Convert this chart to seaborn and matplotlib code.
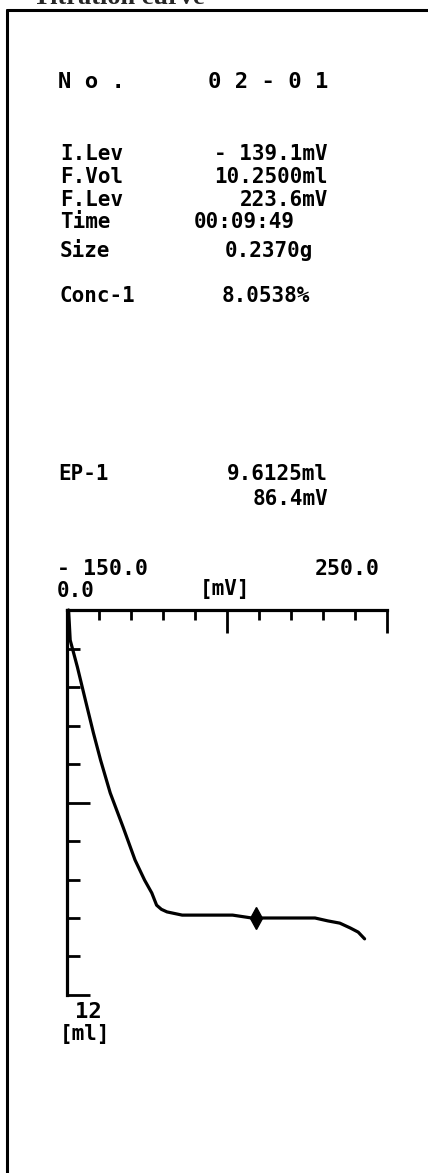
import numpy as np
import pandas as pd
import matplotlib
matplotlib.use('Agg')
import matplotlib.pyplot as plt
from matplotlib.lines import Line2D
import seaborn as sns

# Printout header and results
title = 'Titration curve'
sample_left = 'N o .'
sample_right = '0 2 - 0 1'
info_labels = ['I.Lev', 'F.Vol', 'F.Lev', 'Time', 'Size']
info_values = ['- 139.1mV', '10.2500ml', '223.6mV', '00:09:49', '0.2370g']
conc_label = 'Conc-1'
conc_value = '8.0538%'
ep_label = 'EP-1'
ep_texts = ['9.6125ml', '86.4mV']
ep_vol = 9.6125
ep_mv = 86.4

# Axis range labels
mv_min, mv_max = -150.0, 250.0
ml_min, ml_max = 0.0, 12.0
mv_min_label = '- 150.0'
mv_max_label = '250.0'
ml_min_label = '0.0'
ml_max_label = '12'
mv_unit = '[mV]'
ml_unit = '[ml]'

# Titration curve (potential vs. added volume)
curve_mv = [-148, -146, -137, -127, -117, -108, -96, -80, -65, -53, -44, -38,
            -32, -25, -6, 57, 81, 160, 176, 191, 204, 214, 222]
curve_ml = [0.0, 0.94, 1.78, 2.81, 3.83, 4.68, 5.70, 6.76, 7.79, 8.42, 8.82, 9.20,
            9.33, 9.41, 9.51, 9.51, 9.60, 9.60, 9.69, 9.76, 9.91, 10.04, 10.25]

df = pd.DataFrame({'mV': curve_mv, 'ml': curve_ml})

sns.set_style('white')
plt.rcParams['font.family'] = ['DejaVu Sans Mono', 'DejaVu Sans']

W, H = 428, 1173
fig = plt.figure(figsize=(W / 100, H / 100), dpi=100)
fig.patch.set_facecolor('white')


def fx(px):
    return px / W


def fy(py):
    return 1 - py / H


# outer frame (top and left edges of the scanned page)
fig.add_artist(Line2D([fx(7), fx(440)], [fy(10), fy(10)], color='black', lw=2.2))
fig.add_artist(Line2D([fx(7), fx(7)], [fy(10), fy(1180)], color='black', lw=2.2))
# the page title is cut off at the top edge, as on the scan
fig.text(fx(33), fy(4), title, family='Liberation Serif', weight='bold',
         fontsize=19, ha='left', va='baseline')

mono = dict(family='DejaVu Sans Mono', weight='bold', color='black')

fig.text(fx(58), fy(88), sample_left, fontsize=16, ha='left', va='baseline', **mono)
fig.text(fx(328), fy(88), sample_right, fontsize=16, ha='right', va='baseline', **mono)

info_base = [160, 183, 206, 228, 257]
info_right = [328, 328, 328, 295, 313]
for lab, val, yb, xr in zip(info_labels, info_values, info_base, info_right):
    fig.text(fx(60), fy(yb), lab, fontsize=15, ha='left', va='baseline', **mono)
    fig.text(fx(xr), fy(yb), val, fontsize=15, ha='right', va='baseline', **mono)

fig.text(fx(60), fy(302), conc_label, fontsize=15, ha='left', va='baseline', **mono)
fig.text(fx(310), fy(302), conc_value, fontsize=15, ha='right', va='baseline', **mono)

fig.text(fx(58), fy(480), ep_label, fontsize=15, ha='left', va='baseline', **mono)
fig.text(fx(328), fy(480), ep_texts[0], fontsize=15, ha='right', va='baseline', **mono)
fig.text(fx(328), fy(505), ep_texts[1], fontsize=15, ha='right', va='baseline', **mono)

fig.text(fx(57), fy(575), mv_min_label, fontsize=15.5, ha='left', va='baseline', **mono)
fig.text(fx(380), fy(575), mv_max_label, fontsize=15.5, ha='right', va='baseline', **mono)
fig.text(fx(57), fy(597), ml_min_label, fontsize=15, ha='left', va='baseline', **mono)
fig.text(fx(200), fy(595), mv_unit, fontsize=15, ha='left', va='baseline', **mono)
fig.text(fx(88), fy(1018), ml_max_label, fontsize=16, ha='center', va='baseline', **mono)
fig.text(fx(60), fy(1040), ml_unit, fontsize=15, ha='left', va='baseline', **mono)

# the curve panel
ax = fig.add_axes([fx(67), fy(995), 320 / W, 385 / H])
sns.lineplot(data=df, x='mV', y='ml', sort=False, estimator=None,
             color='black', lw=2.3, ax=ax)
ax.lines[0].set_clip_on(False)
ax.plot([ep_mv], [ep_vol], marker='d', ms=11, color='black', clip_on=False)

ax.set_xlim(mv_min, mv_max)
ax.set_ylim(ml_max, ml_min)
ax.set_xlabel('')
ax.set_ylabel('')
ax.set_facecolor('white')

for side in ['right', 'bottom']:
    ax.spines[side].set_visible(False)
for side in ['top', 'left']:
    ax.spines[side].set_linewidth(2.3)
    ax.spines[side].set_color('black')

mv_ticks = np.linspace(mv_min, mv_max, 11)
ml_ticks = np.linspace(ml_min, ml_max, 11)
ax.xaxis.tick_top()
ax.set_xticks([mv_ticks[5], mv_ticks[10]])
ax.set_xticks(list(mv_ticks[1:5]) + list(mv_ticks[6:10]), minor=True)
ax.set_yticks([ml_ticks[5], ml_ticks[10]])
ax.set_yticks(list(ml_ticks[1:5]) + list(ml_ticks[6:10]), minor=True)
ax.tick_params(axis='x', which='major', direction='in', length=16.5, width=2,
               top=True, bottom=False, labeltop=False, labelbottom=False, color='black')
ax.tick_params(axis='x', which='minor', direction='in', length=7.5, width=2,
               top=True, bottom=False, color='black')
ax.tick_params(axis='y', which='major', direction='in', length=16.5, width=2,
               left=True, right=False, labelleft=False, color='black')
ax.tick_params(axis='y', which='minor', direction='in', length=9, width=2,
               left=True, right=False, color='black')
ax.grid(False)

fig.savefig('out.png', dpi=100, facecolor='white')
